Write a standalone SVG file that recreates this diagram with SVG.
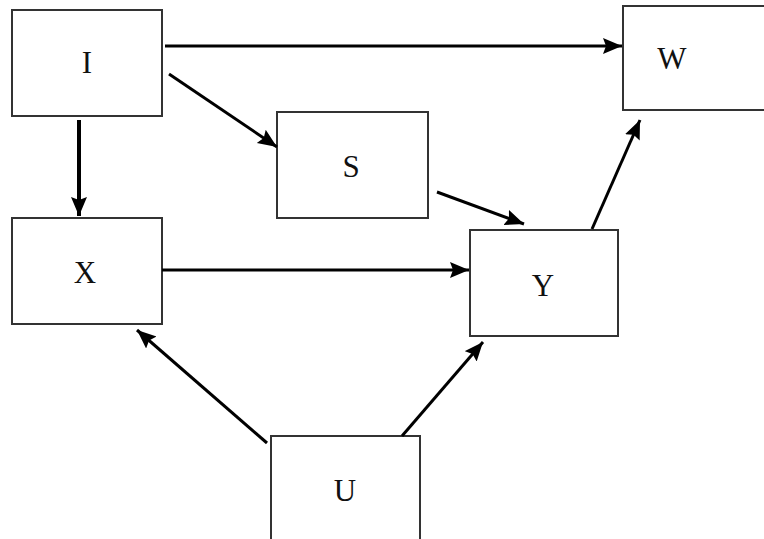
<svg xmlns="http://www.w3.org/2000/svg" width="764" height="539" viewBox="0 0 764 539">
<style>
.box{fill:#fff;stroke:#333;stroke-width:2}
.lbl{font-family:"Liberation Serif","Times New Roman",serif;font-size:31px;fill:#111;text-anchor:middle}
.arr{stroke:#000;stroke-width:3;fill:none;marker-end:url(#ah)}
</style>
<defs>
<marker id="ah" markerUnits="userSpaceOnUse" markerWidth="22" markerHeight="18" refX="19" refY="8" orient="auto">
<path d="M0,0 L19,8 L0,16 L3,8 z" fill="#000"/>
</marker>
</defs>
<rect width="764" height="539" fill="#fff"/>
<g id="node-I"><rect class="box" x="12" y="10" width="150" height="106"/><text class="lbl" x="87" y="73">I</text></g>
<g id="node-W"><rect class="box" x="623" y="6" width="150" height="104"/><text class="lbl" x="672" y="69">W</text></g>
<g id="node-S"><rect class="box" x="277" y="112" width="151" height="106"/><text class="lbl" x="351" y="177">S</text></g>
<g id="node-X"><rect class="box" x="12" y="218" width="150" height="106"/><text class="lbl" x="85" y="283">X</text></g>
<g id="node-Y"><rect class="box" x="470" y="230" width="148" height="106"/><text class="lbl" x="543" y="296">Y</text></g>
<g id="node-U"><rect class="box" x="271" y="436" width="149" height="120"/><text class="lbl" x="345" y="501">U</text></g>
<g id="connectors">
<line class="arr" x1="165" y1="46" x2="622" y2="46"/>
<line class="arr" x1="169" y1="74" x2="277" y2="147"/>
<line class="arr" x1="79" y1="120" x2="79" y2="216" style="stroke-width:4"/>
<line class="arr" x1="437" y1="192" x2="524" y2="224"/>
<line class="arr" x1="592" y1="229" x2="640" y2="120"/>
<line class="arr" x1="162" y1="270" x2="469" y2="270"/>
<line class="arr" x1="267" y1="443" x2="137" y2="330"/>
<line class="arr" x1="402" y1="436" x2="483" y2="342"/>
</g>
</svg>
